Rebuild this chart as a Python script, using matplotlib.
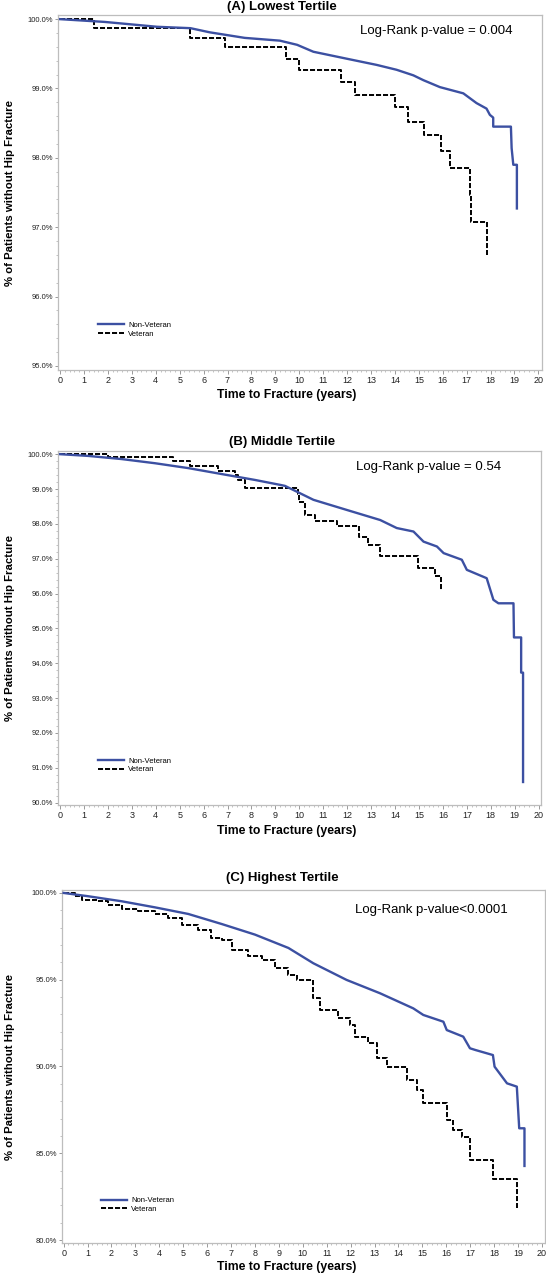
import matplotlib
matplotlib.use("Agg")
import matplotlib.pyplot as plt
from matplotlib.ticker import MultipleLocator, AutoMinorLocator, FuncFormatter

plt.rcParams['font.family'] = ['Liberation Sans', 'DejaVu Sans']

# ---- values (years, % without hip fracture) ----
# (A) Lowest tertile
a_nonvet_t = [0, 1.87, 4.06, 5.45, 6.26, 7.72, 9.19, 9.91, 10.59, 11.98, 13.24, 14.07, 14.77, 15.19,
              15.88, 16.86, 17.41, 17.83, 17.97, 18.11, 18.11, 18.85, 18.88, 18.95, 19.1, 19.1]
a_nonvet_s = [100, 99.96, 99.89, 99.87, 99.81, 99.73, 99.69, 99.63, 99.53, 99.43, 99.34, 99.27, 99.19,
              99.12, 99.02, 98.93, 98.79, 98.71, 98.62, 98.58, 98.45, 98.45, 98.14, 97.90, 97.90, 97.27]
a_vet_t = [0, 1.43, 5.45, 6.91, 9.43, 9.99, 11.75, 12.33, 14.0, 14.56, 15.2, 15.92, 16.3,
           17.14, 17.2, 17.83]
a_vet_s = [100, 99.87, 99.73, 99.60, 99.43, 99.27, 99.10, 98.91, 98.74, 98.52, 98.33, 98.10, 97.85,
           97.46, 97.08, 96.60]

# (B) Middle tertile
b_nonvet_t = [0, 1.18, 2.57, 3.97, 5.36, 6.75, 8.15, 9.19, 9.4, 10.59, 11.98, 13.38, 14.07, 14.77,
              15.19, 15.75, 16.03, 16.79, 17.0, 17.83, 18.11, 18.32, 18.95, 18.97, 19.27, 19.27,
              19.35, 19.35]
b_nonvet_s = [100, 99.95, 99.86, 99.74, 99.60, 99.43, 99.26, 99.12, 99.09, 98.69, 98.40, 98.11, 97.88,
              97.78, 97.49, 97.35, 97.16, 96.97, 96.68, 96.44, 95.82, 95.72, 95.72, 94.74, 94.74,
              93.73, 93.73, 90.59]
b_vet_t = [0, 2.02, 4.73, 5.43, 6.61, 7.31, 7.42, 7.73, 9.95, 10.0, 10.24, 10.66, 11.56, 12.51,
           12.89, 13.35, 14.95, 15.67, 15.9]
b_vet_s = [100, 99.91, 99.79, 99.67, 99.53, 99.40, 99.26, 99.04, 98.86, 98.64, 98.26, 98.09, 97.94,
           97.62, 97.40, 97.08, 96.73, 96.49, 96.06]

# (C) Highest tertile
c_nonvet_t = [0, 1.03, 2.43, 3.82, 5.21, 6.61, 8.0, 9.4, 10.44, 11.83, 13.23, 14.62, 15.04, 15.88,
              16.02, 16.71, 16.99, 17.22, 17.95, 18.02, 18.54, 18.95, 19.05, 19.27, 19.27]
c_nonvet_s = [100, 99.81, 99.52, 99.17, 98.79, 98.21, 97.60, 96.83, 95.95, 94.99, 94.22, 93.35, 92.97,
              92.58, 92.10, 91.72, 91.05, 90.95, 90.66, 89.99, 89.03, 88.84, 86.44, 86.44, 84.27]
c_vet_t = [0, 0.48, 0.76, 1.45, 1.87, 2.43, 3.12, 3.82, 4.38, 4.93, 5.63, 6.18, 6.61, 7.02, 7.72,
           8.28, 8.84, 9.4, 9.74, 10.44, 10.72, 11.49, 11.98, 12.18, 12.74, 13.09, 13.51, 14.34,
           14.76, 15.04, 16.02, 16.29, 16.64, 16.99, 17.95, 18.95]
c_vet_s = [100, 99.81, 99.62, 99.52, 99.33, 99.10, 98.98, 98.79, 98.56, 98.17, 97.88, 97.41, 97.31,
           96.73, 96.35, 96.16, 95.68, 95.25, 94.99, 93.93, 93.26, 92.77, 92.39, 91.72, 91.34,
           90.47, 89.99, 89.22, 88.65, 87.88, 86.92, 86.34, 85.95, 84.61, 83.50, 81.83]

titles = ["(A) Lowest Tertile", "(B) Middle Tertile", "(C) Highest Tertile"]
pvalues = ["Log-Rank p-value = 0.004", "Log-Rank p-value = 0.54", "Log-Rank p-value<0.0001"]
series_labels = ["Non-Veteran", "Veteran"]

BLUE = "#3C50A2"
FRAME = "#BDBDBD"
W, H = 546, 1280


def draw_panel(fig, box, xlim, ylim, ystep, nonvet, vet, title, pval, pval_xy, title_y, xlab_y, leg_xy):
    left, top, right, bottom = box
    ax = fig.add_axes([left / W, 1 - bottom / H, (right - left) / W, (bottom - top) / H])

    ax.plot(nonvet[0], nonvet[1], color=BLUE, lw=1.7, label=series_labels[0], zorder=3)
    ax.plot(vet[0], vet[1], color="black", lw=1.4, ls=(0, (2.6, 1.0)),
            drawstyle="steps-post", label=series_labels[1], zorder=2)

    ax.set_xlim(*xlim)
    ax.set_ylim(*ylim)
    ax.xaxis.set_major_locator(MultipleLocator(1))
    ax.xaxis.set_minor_locator(AutoMinorLocator(5))
    ax.yaxis.set_major_locator(MultipleLocator(ystep))
    ax.yaxis.set_minor_locator(AutoMinorLocator(5))
    ax.yaxis.set_major_formatter(FuncFormatter(lambda v, p: f"{v:.1f}%"))

    for sp in ax.spines.values():
        sp.set_color(FRAME)
        sp.set_linewidth(0.9)
    ax.tick_params(axis="x", which="major", length=3, width=0.7, color="#999999",
                   labelsize=6.5, labelcolor="#222222", pad=1.5)
    ax.tick_params(axis="y", which="major", length=2.5, width=0.7, color="#999999",
                   labelsize=5.5, labelcolor="#222222", pad=1)
    ax.tick_params(which="minor", length=1.6, width=0.5, color="#aaaaaa")

    ax.text(pval_xy[0], pval_xy[1], pval, transform=ax.transAxes, fontsize=9.5,
            ha="left", va="center")

    fig.text(282 / W, 1 - title_y / H, title, fontsize=9.5, fontweight="bold",
             ha="center", va="center")
    fig.text(287 / W, 1 - xlab_y / H, "Time to Fracture (years)", fontsize=8.8,
             fontweight="bold", ha="center", va="center")
    fig.text(10.5 / W, 1 - (top + bottom) / 2 / H, "% of Patients without Hip Fracture",
             fontsize=8.2, fontweight="bold", rotation=90, ha="center", va="center")

    ax.legend(loc="upper left", bbox_to_anchor=leg_xy, frameon=False, fontsize=5.5,
              handlelength=3.4, handletextpad=0.6, labelspacing=0.15,
              borderpad=0, borderaxespad=0)
    return ax


fig = plt.figure(figsize=(W / 100, H / 100), dpi=100)

draw_panel(fig, (57.7, 15, 542, 370), (-0.1, 20.15), (94.94, 100.06), 1,
           (a_nonvet_t, a_nonvet_s), (a_vet_t, a_vet_s),
           titles[0], pvalues[0], (0.624, 0.956), 7, 395, (0.083, 0.136))
draw_panel(fig, (57.7, 450.7, 541, 805), (-0.1, 20.1), (89.93, 100.1), 1,
           (b_nonvet_t, b_nonvet_s), (b_vet_t, b_vet_s),
           titles[1], pvalues[1], (0.617, 0.955), 442, 831, (0.083, 0.134))
draw_panel(fig, (62.2, 890, 544.8, 1243), (-0.06, 20.12), (79.83, 100.17), 5,
           (c_nonvet_t, c_nonvet_s), (c_vet_t, c_vet_s),
           titles[2], pvalues[2], (0.607, 0.943), 878, 1267, (0.080, 0.130))

fig.savefig("out.png", dpi=100)
